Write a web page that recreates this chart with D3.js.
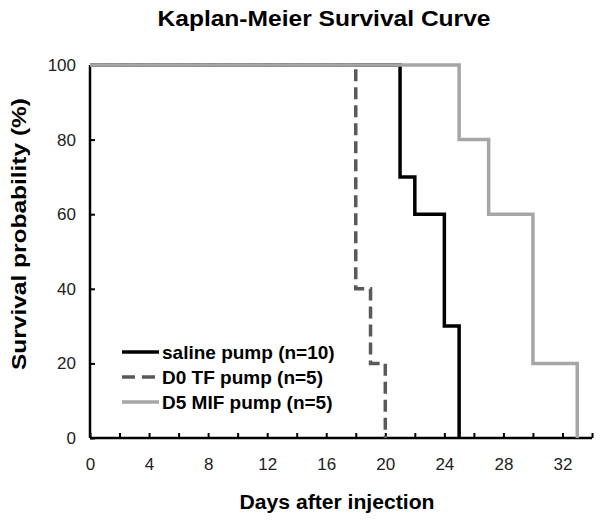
<!DOCTYPE html>
<html>
<head>
<meta charset="utf-8">
<script src="https://cdn.jsdelivr.net/npm/d3@7"></script>
<style>
  html, body { margin: 0; padding: 0; background: #fff; }
  svg { display: block; font-family: "Liberation Sans", Arial, sans-serif; }
</style>
</head>
<body>
<svg id="chart" width="606" height="524"></svg>
<script>
// ---- data ----
const seriesNames = ["saline pump (n=10)", "D0 TF pump (n=5)", "D5 MIF pump (n=5)"];
const salineDays = [0, 21, 22, 24, 25];
const salineSurv = [100, 70, 60, 30, 0];
const tfDays = [0, 18, 19, 20];
const tfSurv = [100, 40, 20, 0];
const mifDays = [0, 25, 27, 30, 33];
const mifSurv = [100, 80, 60, 20, 0];
const xTicks = [0,2,4,6,8,10,12,14,16,18,20,22,24,26,28,30,32,34];
const xLabelTicks = [0,4,8,12,16,20,24,28,32];
const yTicks = [0,20,40,60,80,100];

const titleText = "Kaplan-Meier Survival Curve";
const xTitle = "Days after injection";
const yTitle = "Survival probability (%)";

// ---- styles ----
const styles = [
  { color: "#000000", dash: null },
  { color: "#595959", dash: "12,6" },
  { color: "#a6a6a6", dash: null }
];

const svg = d3.select("#chart");
const x = d3.scaleLinear().domain([0, 34]).range([90, 592]);
const y = d3.scaleLinear().domain([0, 100]).range([438, 65]);

// title
svg.append("text")
  .attr("x", 324).attr("y", 26)
  .attr("text-anchor", "middle")
  .attr("font-size", 22).attr("font-weight", "bold")
  .attr("textLength", 333).attr("lengthAdjust", "spacingAndGlyphs")
  .text(titleText);

// axes
const xAxis = d3.axisBottom(x)
  .tickValues(xTicks)
  .tickSize(-5)
  .tickPadding(20)
  .tickFormat(d => xLabelTicks.includes(d) ? d : "");
const gx = svg.append("g").attr("transform", `translate(0,${y(0)})`).call(xAxis);
gx.select(".domain").attr("stroke", "#000").attr("stroke-width", 2.5).attr("d", `M${x(0)},0H${x(34)}`);
gx.selectAll(".tick line").attr("stroke", "#000").attr("stroke-width", 2);
gx.selectAll(".tick text").attr("font-size", 17).attr("fill", "#222").attr("font-family", "Liberation Sans, Arial, sans-serif");

const yAxis = d3.axisLeft(y)
  .tickValues(yTicks)
  .tickSize(-5)
  .tickPadding(14)
  .tickFormat(d => d);
const gy = svg.append("g").attr("transform", `translate(${x(0)},0)`).call(yAxis);
gy.select(".domain").attr("stroke", "#000").attr("stroke-width", 2.5).attr("d", `M0,${y(100)}V${y(0)}`);
gy.selectAll(".tick line").attr("stroke", "#000").attr("stroke-width", 2);
gy.selectAll(".tick text").attr("font-size", 17).attr("fill", "#222").attr("font-family", "Liberation Sans, Arial, sans-serif");

// axis titles
svg.append("text")
  .attr("x", 337).attr("y", 509)
  .attr("text-anchor", "middle")
  .attr("font-size", 20).attr("font-weight", "bold")
  .attr("textLength", 195).attr("lengthAdjust", "spacingAndGlyphs")
  .text(xTitle);

svg.append("text")
  .attr("transform", "translate(26,234) rotate(-90)")
  .attr("text-anchor", "middle")
  .attr("font-size", 20).attr("font-weight", "bold")
  .attr("textLength", 272).attr("lengthAdjust", "spacingAndGlyphs")
  .text(yTitle);

// curves
const line = d3.line().x(d => x(d[0])).y(d => y(d[1])).curve(d3.curveStepAfter);
const series = [
  d3.zip(salineDays, salineSurv),
  d3.zip(tfDays, tfSurv),
  d3.zip(mifDays, mifSurv)
];
series.forEach((s, i) => {
  svg.append("path")
    .attr("d", line(s))
    .attr("fill", "none")
    .attr("stroke", styles[i].color)
    .attr("stroke-width", 3.5)
    .attr("stroke-dasharray", styles[i].dash);
});

// legend
const legendY = [352, 377, 402];
seriesNames.forEach((name, i) => {
  svg.append("line")
    .attr("x1", 122).attr("x2", 159)
    .attr("y1", legendY[i]).attr("y2", legendY[i])
    .attr("stroke", styles[i].color)
    .attr("stroke-width", 3.5)
    .attr("stroke-dasharray", styles[i].dash ? "13,7" : null);
  svg.append("text")
    .attr("x", 162).attr("y", legendY[i] + 6.5)
    .attr("font-size", 19).attr("font-weight", "bold")
    .text(name);
});
</script>
</body>
</html>
